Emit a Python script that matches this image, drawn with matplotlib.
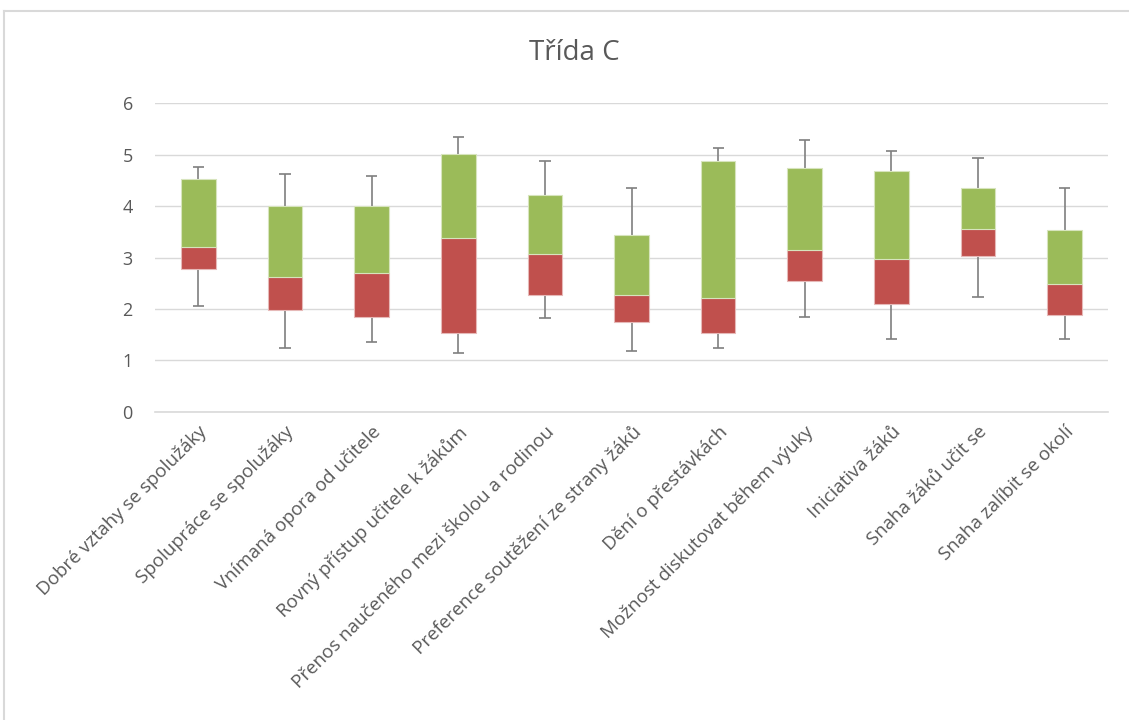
import matplotlib
matplotlib.use('Agg')
import matplotlib.pyplot as plt
from matplotlib.lines import Line2D
import numpy as np

# data (Třída C)
kategorie = ['Dobré vztahy se spolužáky', 'Spolupráce se spolužáky',
             'Vnímaná opora od učitele', 'Rovný přístup učitele k žákům',
             'Přenos naučeného mezi školou a rodinou',
             'Preference soutěžení ze strany žáků', 'Dění o přestávkách',
             'Možnost diskutovat během výuky', 'Iniciativa žáků',
             'Snaha žáků učit se', 'Snaha zalíbit se okolí']
minimum = [2.06, 1.23, 1.36, 1.14, 1.83, 1.18, 1.23, 1.85, 1.41, 2.24, 1.41]
q1 = [2.77, 1.98, 1.84, 1.54, 2.28, 1.75, 1.54, 2.54, 2.10, 3.02, 1.89]
median = [3.20, 2.63, 2.70, 3.37, 3.07, 2.28, 2.21, 3.14, 2.97, 3.55, 2.49]
q3 = [4.52, 4.00, 4.01, 5.01, 4.22, 3.43, 4.87, 4.75, 4.69, 4.36, 3.53]
maximum = [4.77, 4.63, 4.59, 5.35, 4.88, 4.35, 5.14, 5.28, 5.07, 4.94, 4.35]

plt.rcParams['font.family'] = ['Open Sans', 'DejaVu Sans']

fig = plt.figure(figsize=(11.29, 7.2), dpi=100)
ax = fig.add_axes([0.1373, 0.4282, 0.8441, 0.4283])

x = np.arange(len(kategorie))
q1 = np.array(q1)
median = np.array(median)
q3 = np.array(q3)
minimum = np.array(minimum)
maximum = np.array(maximum)

sirka = 0.4
ax.bar(x, median - q1, sirka, bottom=q1, color='#C0504D', edgecolor='#E6B9B8',
       linewidth=0.8, zorder=3)
ax.bar(x, q3 - median, sirka, bottom=median, color='#9BBB59', edgecolor='#D7E4BD',
       linewidth=0.8, zorder=3)

# chybové úsečky (min / max)
cap = 0.065
barva = '#7F7F7F'
ax.vlines(x, q3, maximum, color=barva, linewidth=1.2, zorder=2)
ax.vlines(x, minimum, q1, color=barva, linewidth=1.2, zorder=2)
ax.hlines(maximum, x - cap, x + cap, color=barva, linewidth=1.2, zorder=2)
ax.hlines(minimum, x - cap, x + cap, color=barva, linewidth=1.2, zorder=2)

ax.set_xlim(-0.5, len(x) - 0.5)
ax.set_ylim(0, 6)
ax.set_yticks(range(0, 7))
ax.grid(axis='y', color='#D9D9D9', linewidth=1, zorder=0)
ax.axhline(0, color='#D9D9D9', linewidth=1.2, zorder=1, clip_on=False)
ax.set_axisbelow(True)
for s in ax.spines.values():
    s.set_visible(False)
ax.tick_params(axis='both', length=0, colors='#595959', labelsize=13)
ax.tick_params(axis='y', pad=16)
ax.set_xticks(x)
ax.set_xticklabels(kategorie, rotation=45, ha='right', rotation_mode='anchor',
                   fontsize=13.5, color='#595959')
ax.tick_params(axis='x', pad=8)

fig.text(0.509, 0.927, 'Třída C', ha='center', va='center', fontsize=20,
         color='#595959')

# rámeček grafu
fig.add_artist(Line2D([0.0035, 0.0035], [0.0, 0.985], transform=fig.transFigure,
                      color='#D9D9D9', linewidth=1.5))
fig.add_artist(Line2D([0.0035, 1.0], [0.985, 0.985], transform=fig.transFigure,
                      color='#D9D9D9', linewidth=1.5))

fig.savefig('out.png', dpi=100, facecolor='white')
